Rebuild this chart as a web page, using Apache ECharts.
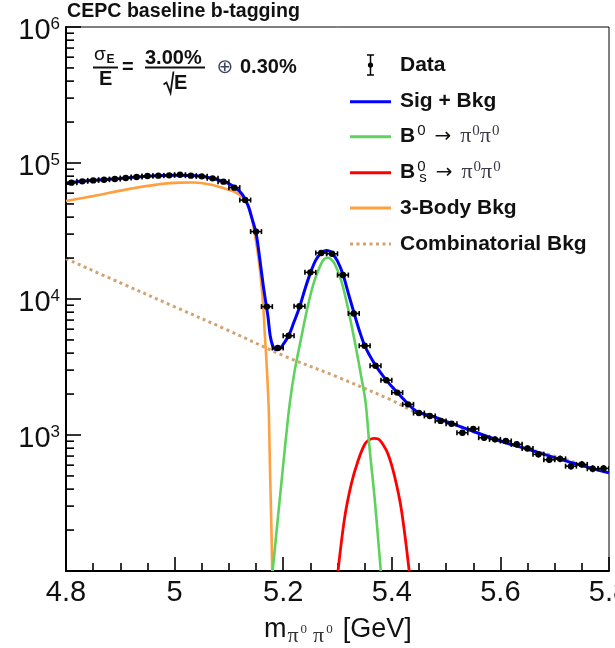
<!DOCTYPE html>
<html>
<head>
<meta charset="utf-8">
<script src="https://cdn.jsdelivr.net/npm/echarts@6/dist/echarts.min.js"></script>
<style>
  html, body { margin: 0; padding: 0; background: #fff; }
  #chart { width: 615px; height: 648px; }
</style>
</head>
<body>
<div id="chart"></div>
<script>
// ---- Binned data: m(pi0 pi0) bin centres [GeV] and entries per bin ----
const binCenters = [4.81, 4.83, 4.85, 4.87, 4.89, 4.91, 4.93, 4.95, 4.97, 4.99,
                    5.01, 5.03, 5.05, 5.07, 5.09, 5.11, 5.13, 5.15, 5.17, 5.19,
                    5.21, 5.23, 5.25, 5.27, 5.29, 5.31, 5.33, 5.35, 5.37, 5.39,
                    5.41, 5.43, 5.45, 5.47, 5.49, 5.51, 5.53, 5.55, 5.57, 5.59,
                    5.61, 5.63, 5.65, 5.67, 5.69, 5.71, 5.73, 5.75, 5.77, 5.79];
const binCounts = [71700, 73300, 74500, 75400, 76200, 77500, 78900, 80200, 80700, 81100,
                   82000, 80700, 79800, 77100, 72900, 65900, 53400, 31300, 8790, 4360,
                   5370, 8840, 15700, 21800, 21500, 15000, 7830, 4530, 3230, 2530,
                   2050, 1680, 1450, 1380, 1270, 1210, 1040, 1110, 955, 929,
                   903, 854, 797, 721, 658, 668, 590, 608, 565, 568];
const binHalfWidth = 0.01;

// ---- Fit components sampled along the mass axis ----
const sigBkgX = [4.80, 4.83, 4.86, 4.90, 4.95, 5.00, 5.03, 5.06, 5.09, 5.11,
                 5.125, 5.135, 5.143, 5.15, 5.157, 5.163, 5.168, 5.172, 5.176, 5.181,
                 5.187, 5.194, 5.20, 5.21, 5.22, 5.23, 5.24, 5.25, 5.26, 5.27,
                 5.275, 5.28, 5.285, 5.29, 5.30, 5.31, 5.32, 5.33, 5.34, 5.35,
                 5.36, 5.37, 5.38, 5.39, 5.40, 5.41, 5.42, 5.43, 5.44, 5.45,
                 5.475, 5.50, 5.54, 5.60, 5.66, 5.72, 5.78, 5.80];
const sigBkgY = [71200, 73300, 74900, 76900, 79800, 81200, 80900, 78600, 73200, 66500,
                 58500, 49000, 38500, 30500, 19500, 12800, 9400, 7400, 5400, 4500,
                 4250, 4300, 4650, 5370, 6800, 8700, 11800, 15500, 19300, 21900,
                 22500, 22700, 22500, 21800, 19000, 15200, 11000, 8000, 5900, 4550,
                 3800, 3250, 2850, 2530, 2270, 2060, 1860, 1690, 1550, 1460,
                 1370, 1260, 1100, 903, 765, 645, 552, 528];

const b0X = [5.1805, 5.1935, 5.2028, 5.212, 5.221, 5.2335, 5.246, 5.258, 5.270, 5.2755,
             5.2815, 5.2875, 5.295, 5.307, 5.319, 5.3315, 5.344, 5.352, 5.3594, 5.3687,
             5.3797];
const b0Y = [100, 332, 776, 1700, 2950, 5250, 9120, 13800, 18200, 19700,
             20100, 19700, 18100, 13600, 8670, 4930, 2650, 1700, 776, 332,
             100];

const bsX = [5.301, 5.3134, 5.3257, 5.338, 5.3502, 5.358, 5.3674, 5.375, 5.381, 5.393,
             5.4055, 5.4178, 5.432];
const bsY = [100, 250, 441, 650, 855, 920, 946, 935, 885, 725,
             490, 280, 100];

const threeBodyX = [4.80, 4.85, 4.91, 4.97, 5.01, 5.035, 5.065, 5.095, 5.11, 5.125,
                    5.138, 5.147, 5.152, 5.157, 5.163, 5.166, 5.169, 5.1715, 5.1735, 5.1755,
                    5.1785, 5.1797];
const threeBodyY = [52500, 57100, 63700, 69600, 71700, 71800, 69600, 64500, 61500, 56000,
                    46000, 31000, 23500, 16500, 9200, 5600, 3600, 2300, 1500, 600,
                    190, 100];

const combX = [4.80, 4.90, 5.00, 5.10, 5.20, 5.30, 5.40, 5.43, 5.45, 5.50, 5.60, 5.70, 5.80];
const combY = [19800, 13150, 8770, 5850, 3840, 2670, 1800, 1560, 1440, 1250, 898, 698, 525];

// ---- Axis settings ----
const xMin = 4.8, xMax = 5.8, xStep = 0.2;
const yMin = 100, yMax = 1e6;
const yMinorTicks = [];
for (let e = 2; e < 6; e++) for (let m = 2; m <= 9; m++) yMinorTicks.push(m * Math.pow(10, e));

const legendNames = ['Data', 'Sig + Bkg', 'B0 -> pi0pi0', 'Bs0 -> pi0pi0', '3-Body Bkg', 'Combinatorial Bkg'];

const colors = {
  data: '#000000',
  sig: '#0000ff',
  b0: '#5dd35d',
  bs: '#ff0000',
  three: '#ffa040',
  comb: '#d3a273'
};

const pairs = (xs, ys) => xs.map((x, i) => [x, ys[i]]);

const chart = echarts.init(document.getElementById('chart'), null, { renderer: 'canvas' });

const sansFont = '"Liberation Sans", Arial, Helvetica, sans-serif';
const serifFont = '"Liberation Serif", "Times New Roman", serif';

function curveSeries(name, xs, ys, color, width, z, extraLine) {
  return {
    type: 'line',
    name: name,
    data: pairs(xs, ys),
    symbol: 'none',
    showSymbol: false,
    smooth: 0.35,
    clip: true,
    z: z,
    silent: true,
    lineStyle: Object.assign({ color: color, width: width }, extraLine || {})
  };
}

// Legend rows (drawn as graphics)
const legendX = 350, legendTextX = 400;
const legendRowsY = [65, 101.7, 136.7, 172.7, 208, 244];
const legendGraphics = [];
// Data icon: error bar with marker
(function () {
  const cx = 370.5, cy = legendRowsY[0];
  legendGraphics.push(
    { type: 'line', shape: { x1: cx, y1: cy - 10, x2: cx, y2: cy + 10 }, style: { stroke: '#000', lineWidth: 1.5 } },
    { type: 'line', shape: { x1: cx - 3.5, y1: cy - 10, x2: cx + 3.5, y2: cy - 10 }, style: { stroke: '#000', lineWidth: 1.5 } },
    { type: 'line', shape: { x1: cx - 3.5, y1: cy + 10, x2: cx + 3.5, y2: cy + 10 }, style: { stroke: '#000', lineWidth: 1.5 } },
    { type: 'circle', shape: { cx: cx, cy: cy, r: 2.6 }, style: { fill: '#000' } }
  );
})();
const legendLines = [
  { row: 1, color: colors.sig, width: 3 },
  { row: 2, color: colors.b0, width: 3 },
  { row: 3, color: colors.bs, width: 3 },
  { row: 4, color: colors.three, width: 3 },
  { row: 5, color: colors.comb, width: 3, dash: [3, 3.5] }
];
legendLines.forEach(l => {
  legendGraphics.push({
    type: 'line',
    shape: { x1: legendX, y1: legendRowsY[l.row], x2: legendX + 41, y2: legendRowsY[l.row] },
    style: { stroke: l.color, lineWidth: l.width, lineDash: l.dash || null }
  });
});
const legendRich = {
  b: { fontFamily: sansFont, fontWeight: 'bold', fontSize: 21, lineHeight: 26, fill: '#111' },
  sup: { fontFamily: sansFont, fontSize: 15, lineHeight: 18, verticalAlign: 'top', fill: '#111', padding: [0, 0, 0, 2] },
  sup0: { fontFamily: sansFont, fontSize: 15, lineHeight: 12, verticalAlign: 'top', fill: '#111', width: 0.01, padding: [0, 0, 0, 2] },
  sub: { fontFamily: sansFont, fontSize: 15, lineHeight: 10, verticalAlign: 'bottom', fill: '#111', padding: [0, 0, 0, 2] },
  ar: { fontFamily: '"DejaVu Sans", sans-serif', fontSize: 20, lineHeight: 26, fill: '#111', padding: [0, 9, 0, 9] },
  pi: { fontFamily: serifFont, fontSize: 22, lineHeight: 26, fill: '#3a3a48' },
  pz: { fontFamily: serifFont, fontSize: 15, lineHeight: 18, verticalAlign: 'top', fill: '#3a3a48', padding: [0, 0, 0, 1] }
};
const legendTexts = [
  '{b|Data}',
  '{b|Sig + Bkg}',
  '{b|B}{sup|0}{ar|\u2192}{pi|\u03c0}{pz|0}{pi|\u03c0}{pz|0}',
  '{b|B}{sup0|0}{sub|s}{ar|\u2192}{pi|\u03c0}{pz|0}{pi|\u03c0}{pz|0}',
  '{b|3-Body Bkg}',
  '{b|Combinatorial Bkg}'
];
legendTexts.forEach((t, i) => {
  legendGraphics.push({
    type: 'text', x: legendTextX, y: legendRowsY[i],
    style: { text: t, rich: legendRich, align: 'left', verticalAlign: 'middle', fill: '#111', fontFamily: sansFont, fontWeight: 'bold', fontSize: 21 }
  });
});

// Resolution formula, title and x-axis title
const textBold20 = { fontFamily: sansFont, fontWeight: 'bold', fontSize: 20, fill: '#111', verticalAlign: 'middle', align: 'left' };
const formulaGraphics = [
  { type: 'text', x: 67, y: 12, style: { text: 'CEPC baseline b-tagging', fontFamily: sansFont, fontWeight: 'bold', fontSize: 19.6, fill: '#111', verticalAlign: 'middle' } },
  { type: 'text', x: 94, y: 55, style: { text: '\u03c3', fontFamily: sansFont, fontSize: 19, fill: '#111', verticalAlign: 'middle' } },
  { type: 'text', x: 106.5, y: 59.5, style: { text: 'E', fontFamily: sansFont, fontWeight: 'bold', fontSize: 12, fill: '#111', verticalAlign: 'middle' } },
  { type: 'line', shape: { x1: 93, y1: 67.5, x2: 118, y2: 67.5 }, style: { stroke: '#111', lineWidth: 2 } },
  { type: 'text', x: 99, y: 79, style: Object.assign({}, textBold20, { text: 'E' }) },
  { type: 'text', x: 122, y: 67, style: Object.assign({}, textBold20, { text: '=' }) },
  { type: 'text', x: 145, y: 58, style: Object.assign({}, textBold20, { text: '3.00%' }) },
  { type: 'line', shape: { x1: 145, y1: 67.5, x2: 205, y2: 67.5 }, style: { stroke: '#111', lineWidth: 2 } },
  { type: 'polyline', shape: { points: [[163.5, 84.5], [166.5, 82.5], [170.5, 93], [173.5, 71.5]] }, style: { stroke: '#111', lineWidth: 1.8, fill: null } },
  { type: 'text', x: 174, y: 83, style: Object.assign({}, textBold20, { text: 'E' }) },
  { type: 'text', x: 216.5, y: 68, style: { text: '\u2295', fontFamily: '"DejaVu Sans", sans-serif', fontSize: 20, fill: '#3d4860', verticalAlign: 'middle' } },
  { type: 'text', x: 240, y: 67, style: Object.assign({}, textBold20, { text: '0.30%' }) },
  {
    type: 'text', x: 264, y: 630,
    style: {
      text: '{m|m}{p|\u03c0}{z|0}{p|\u03c0}{z|0}{g|[GeV]}',
      verticalAlign: 'middle', align: 'left',
      rich: {
        m: { fontFamily: sansFont, fontSize: 27, lineHeight: 34, fill: '#111' },
        p: { fontFamily: serifFont, fontSize: 22, lineHeight: 18, verticalAlign: 'bottom', fill: '#333', padding: [0, 2, 0, 1] },
        z: { fontFamily: serifFont, fontSize: 13, lineHeight: 22, verticalAlign: 'middle', fill: '#333', padding: [0, 5, 0, 0] },
        g: { fontFamily: sansFont, fontSize: 27, lineHeight: 34, fill: '#111', padding: [0, 0, 0, 5] }
      }
    }
  }
];

const option = {
  animation: false,
  backgroundColor: '#fff',
  grid: {
    left: 66, top: 27, width: 543, height: 544,
    containLabel: false, outerBoundsMode: 'none',
    show: true, borderColor: '#000', borderWidth: 1, backgroundColor: 'transparent'
  },
  xAxis: {
    type: 'value', min: xMin, max: xMax, interval: xStep,
    splitLine: { show: false },
    axisLine: { show: true, onZero: false, lineStyle: { color: '#000', width: 2 } },
    axisTick: { show: true, inside: true, length: 14, lineStyle: { color: '#000', width: 1.6 } },
    minorTick: { show: true, splitNumber: 4, length: 8, lineStyle: { color: '#000', width: 1.6 } },
    minorSplitLine: { show: false },
    axisLabel: {
      show: true, margin: 7, color: '#111', fontFamily: sansFont, fontSize: 29,
      showMinLabel: true, showMaxLabel: true, hideOverlap: false,
      formatter: v => String(+v.toFixed(1))
    }
  },
  yAxis: {
    type: 'log', logBase: 10, min: yMin, max: yMax,
    splitLine: { show: false },
    axisLine: { show: true, onZero: false, lineStyle: { color: '#000', width: 2 } },
    axisTick: { show: true, inside: true, length: 15, lineStyle: { color: '#000', width: 1.6 } },
    minorTick: { show: false },
    axisLabel: {
      show: true, margin: 6, color: '#111', padding: [8, 0, 0, 0],
      showMinLabel: true, showMaxLabel: true,
      formatter: v => {
        const e = Math.round(Math.log10(v));
        return e < 3 ? '' : '{b|10}{s|' + e + '}';
      },
      rich: {
        b: { fontFamily: sansFont, fontSize: 29, lineHeight: 30, color: '#111' },
        s: { fontFamily: sansFont, fontSize: 17, lineHeight: 12, verticalAlign: 'top', color: '#111' }
      }
    }
  },
  graphic: { elements: legendGraphics.concat(formulaGraphics).map(g => Object.assign({ z: 100, silent: true }, g)) },
  series: [
    // minor ticks of the logarithmic y axis
    {
      type: 'custom', name: 'yMinor', silent: true, z: 50, clip: false,
      data: yMinorTicks.map(v => [xMin, v]),
      encode: { x: 0, y: 1 },
      renderItem: (params, api) => {
        const p = api.coord([api.value(0), api.value(1)]);
        return { type: 'line', shape: { x1: p[0], y1: p[1], x2: p[0] + 8, y2: p[1] }, style: { stroke: '#000', lineWidth: 1.6 } };
      }
    },
    curveSeries(legendNames[5], combX, combY, colors.comb, 3, 2, { type: [3, 3.5], cap: 'butt' }),
    curveSeries(legendNames[4], threeBodyX, threeBodyY, colors.three, 2.6, 3),
    curveSeries(legendNames[3], bsX, bsY, colors.bs, 2.8, 4),
    curveSeries(legendNames[2], b0X, b0Y, colors.b0, 2.6, 5),
    curveSeries(legendNames[1], sigBkgX, sigBkgY, colors.sig, 3, 6),
    {
      type: 'custom', name: legendNames[0], silent: true, z: 10, clip: true,
      data: binCenters.map((x, i) => [x, binCounts[i]]),
      encode: { x: 0, y: 1 },
      renderItem: (params, api) => {
        const x = api.value(0), n = api.value(1);
        const c = api.coord([x, n]);
        const xl = api.coord([x - binHalfWidth, n])[0];
        const xr = api.coord([x + binHalfWidth, n])[0];
        const err = Math.sqrt(n);
        const yt = api.coord([x, n + err])[1];
        const yb = api.coord([x, n - err])[1];
        const st = { stroke: '#000', lineWidth: 1.6 };
        return {
          type: 'group',
          children: [
            { type: 'line', shape: { x1: xl, y1: c[1], x2: xr, y2: c[1] }, style: st },
            { type: 'line', shape: { x1: xl, y1: c[1] - 2.5, x2: xl, y2: c[1] + 2.5 }, style: st },
            { type: 'line', shape: { x1: xr, y1: c[1] - 2.5, x2: xr, y2: c[1] + 2.5 }, style: st },
            { type: 'line', shape: { x1: c[0], y1: yt - 1, x2: c[0], y2: yb + 1 }, style: st },
            { type: 'circle', shape: { cx: c[0], cy: c[1], r: 3.2 }, style: { fill: '#000' } }
          ]
        };
      }
    }
  ]
};

chart.setOption(option);
</script>
</body>
</html>
